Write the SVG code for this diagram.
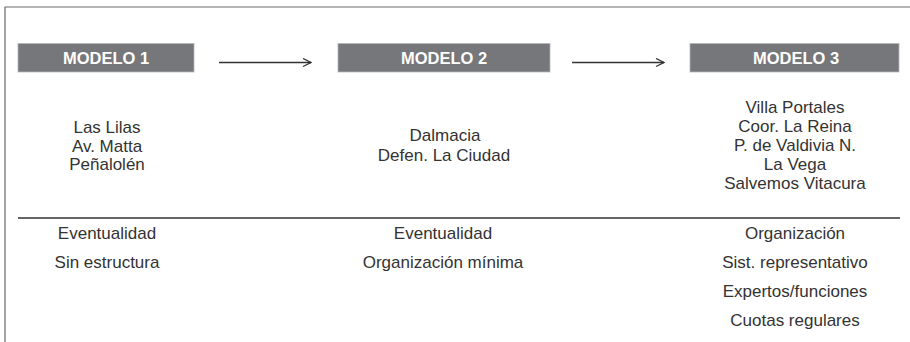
<svg xmlns="http://www.w3.org/2000/svg" width="910" height="342" viewBox="0 0 910 342">
<style>
.frame{fill:none;stroke:#6a6a6a;stroke-width:1.2}
.box{fill:#76777a;stroke:#b5b6b8;stroke-width:0.8}
.bt{font-family:"Liberation Sans",Arial,sans-serif;font-size:16.5px;font-weight:bold;fill:#fff;text-anchor:middle}
.t{font-family:"Liberation Sans",Arial,sans-serif;font-size:17px;fill:#333;text-anchor:middle}
.ln{stroke:#333;stroke-width:1.3;fill:none}
</style>
<defs>
<marker id="ah" markerWidth="10" markerHeight="10" refX="9" refY="5" orient="auto" markerUnits="userSpaceOnUse">
<path d="M1,1 L9,5 L1,9" fill="none" stroke="#333" stroke-width="1.3"/>
</marker>
</defs>
<path class="frame" d="M5,342 V7 H910"/>
<g id="modelo1">
<rect class="box" x="18" y="43.5" width="176" height="28.5"/>
<text class="bt" x="106" y="64">MODELO 1</text>
</g>
<g id="modelo2">
<rect class="box" x="338" y="43.5" width="212" height="28.5"/>
<text class="bt" x="444" y="64">MODELO 2</text>
</g>
<g id="modelo3">
<rect class="box" x="690" y="43.5" width="209" height="28.5"/>
<text class="bt" x="796" y="64">MODELO 3</text>
</g>
<g id="connectors">
<line class="ln" x1="219" y1="62.5" x2="311" y2="62.5" marker-end="url(#ah)"/>
<line class="ln" x1="572" y1="62.5" x2="664" y2="62.5" marker-end="url(#ah)"/>
</g>
<line class="ln" x1="18" y1="218" x2="900" y2="218"/>
<g id="col1">
<text class="t" x="107" y="133">Las Lilas</text>
<text class="t" x="107" y="152">Av. Matta</text>
<text class="t" x="107" y="170">Peñalolén</text>
<text class="t" x="107" y="239">Eventualidad</text>
<text class="t" x="107" y="268">Sin estructura</text>
</g>
<g id="col2">
<text class="t" x="445" y="141">Dalmacia</text>
<text class="t" x="444" y="161">Defen. La Ciudad</text>
<text class="t" x="443" y="239">Eventualidad</text>
<text class="t" x="443" y="268">Organización mínima</text>
</g>
<g id="col3">
<text class="t" x="795" y="113">Villa Portales</text>
<text class="t" x="795" y="132">Coor. La Reina</text>
<text class="t" x="795" y="151">P. de Valdivia N.</text>
<text class="t" x="795" y="170">La Vega</text>
<text class="t" x="795" y="189">Salvemos Vitacura</text>
<text class="t" x="795" y="239">Organización</text>
<text class="t" x="795" y="268">Sist. representativo</text>
<text class="t" x="795" y="297">Expertos/funciones</text>
<text class="t" x="795" y="326">Cuotas regulares</text>
</g>
</svg>
